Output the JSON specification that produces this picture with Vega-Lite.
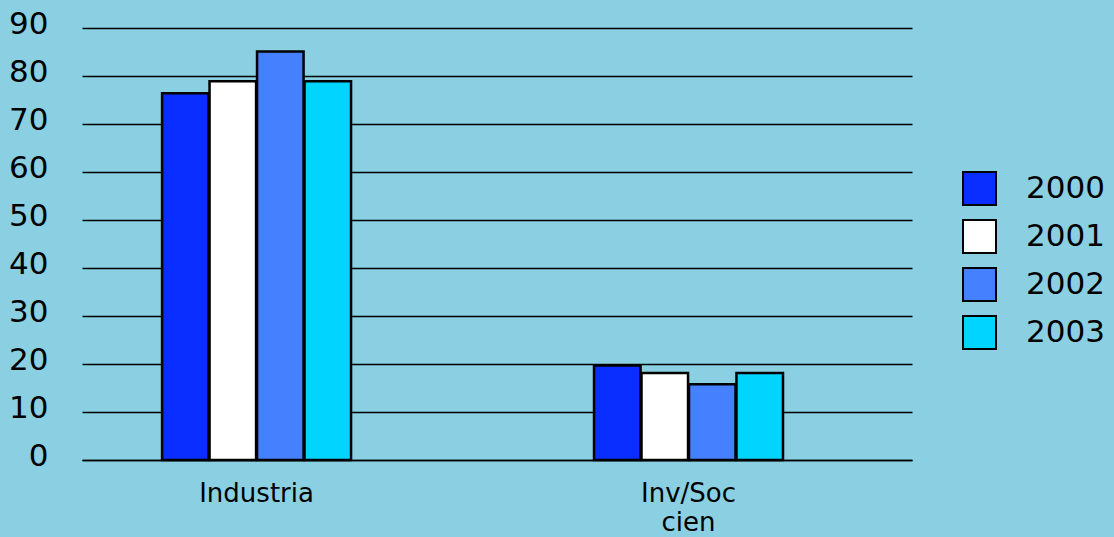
{
  "$schema": "https://vega.github.io/schema/vega-lite/v6.json",
  "autosize": "none",
  "width": 830,
  "height": 432,
  "padding": {"left": 82, "top": 28, "right": 202, "bottom": 77},
  "background": "#8AD0E2",
  "config": {
    "view": {"stroke": null},
    "font": "DejaVu Sans"
  },
  "data": {
    "values": [
      {"sector": "Industria", "year": "2000", "value": 76.4},
      {"sector": "Industria", "year": "2001", "value": 78.9},
      {"sector": "Industria", "year": "2002", "value": 85.1},
      {"sector": "Industria", "year": "2003", "value": 78.9},
      {"sector": "Inv/Soc cien", "year": "2000", "value": 19.7},
      {"sector": "Inv/Soc cien", "year": "2001", "value": 18.1},
      {"sector": "Inv/Soc cien", "year": "2002", "value": 15.8},
      {"sector": "Inv/Soc cien", "year": "2003", "value": 18.1}
    ]
  },
  "mark": {"type": "bar", "stroke": "black", "strokeWidth": 2.5, "strokeOpacity": 1},
  "encoding": {
    "x": {
      "field": "sector",
      "type": "nominal",
      "sort": null,
      "scale": {"paddingInner": 0.5625, "paddingOuter": 0.242, "align": 0.383},
      "axis": {
        "title": null,
        "labelAngle": 0,
        "labelFontSize": 26,
        "labelColor": "black",
        "labelPadding": 20,
        "labelExpr": "split(datum.label, ' ')",
        "labelLineHeight": 29,
        "ticks": false,
        "domainColor": "black",
        "domainWidth": 1.5
      }
    },
    "xOffset": {"field": "year", "type": "nominal", "scale": {"paddingInner": 0.02}},
    "y": {
      "field": "value",
      "type": "quantitative",
      "scale": {"domain": [0, 90], "nice": false},
      "axis": {
        "title": null,
        "values": [0, 10, 20, 30, 40, 50, 60, 70, 80, 90],
        "labelFontSize": 31,
        "labelColor": "black",
        "labelPadding": 34,
        "labelOffset": -4,
        "ticks": false,
        "domain": false,
        "gridColor": "black",
        "gridWidth": 1.5,
        "gridOpacity": 1
      }
    },
    "fill": {
      "field": "year",
      "type": "nominal",
      "scale": {"domain": ["2000", "2001", "2002", "2003"], "range": ["#0A2EFF", "#FFFFFF", "#4480FF", "#00D4FF"]},
      "legend": {
        "title": null,
        "orient": "none",
        "legendX": 880,
        "legendY": 143,
        "symbolType": "square",
        "symbolSize": 1089,
        "symbolStrokeColor": "black",
        "symbolStrokeWidth": 2,
        "symbolOpacity": 1,
        "labelFontSize": 31,
        "labelColor": "black",
        "labelOffset": 29,
        "rowPadding": 7
      }
    }
  }
}
